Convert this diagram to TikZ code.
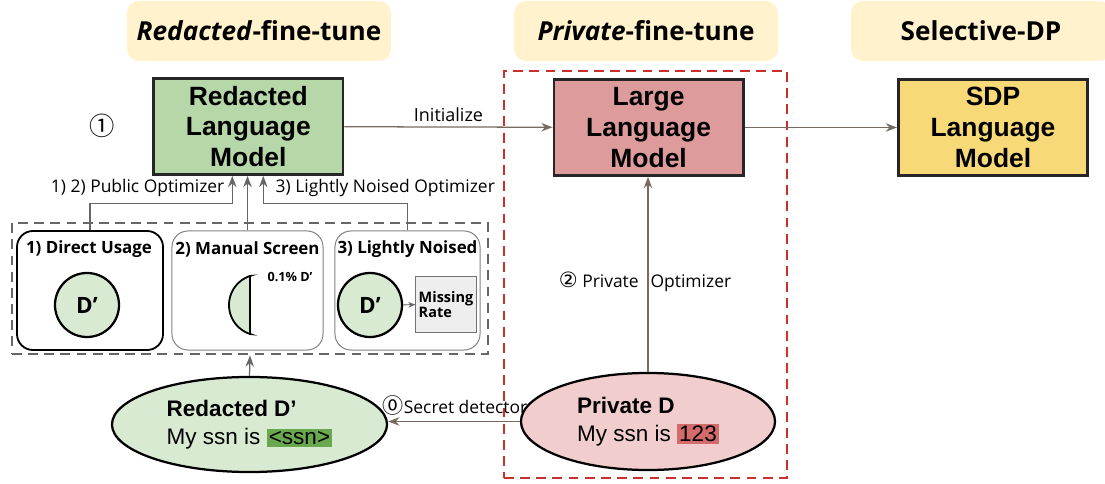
\documentclass[tikz,border=0pt]{standalone}
\usepackage{fontspec}
\setmainfont{Open Sans}
\newfontfamily\arialfont{Liberation Sans}
\newfontfamily\symfont{DejaVu Sans}
\newfontfamily\cjkfont{Noto Sans CJK JP}
\usetikzlibrary{shapes.geometric}
\usetikzlibrary{arrows.meta}
\definecolor{pillbg}{HTML}{FFF2CC}
\definecolor{redlm}{HTML}{B6D7A8}
\definecolor{largelm}{HTML}{DE9B9B}
\definecolor{sdplm}{HTML}{F8D977}
\definecolor{lightgreen}{HTML}{D9EAD3}
\definecolor{lightpink}{HTML}{F1CDCD}
\definecolor{hlgreen}{HTML}{6AA84F}
\definecolor{hlred}{HTML}{D46B6B}
\definecolor{flowcol}{HTML}{766B5E}
\definecolor{optcol}{HTML}{666666}
\definecolor{privred}{HTML}{C9302C}
\definecolor{missbg}{HTML}{EEEEEE}
\tikzset{
	pill/.style={fill=pillbg,rounded corners=0.3cm,minimum height=1.5cm,inner sep=0pt,font=\bfseries\fontsize{18.6}{22}\selectfont},
	model/.style={draw=black!85,line width=2pt,minimum width=4.73cm,minimum height=2.4cm,inner sep=1pt,align=center,font=\arialfont\bfseries\fontsize{18.8}{22}\selectfont},
	grpbox/.style={draw=optcol,line width=2pt,dash pattern=on 7pt off 4.5pt,minimum width=11.9cm,minimum height=3.275cm},
	privbox/.style={draw=privred,line width=2pt,dash pattern=on 7pt off 4.5pt,minimum width=7.075cm,minimum height=10.175cm},
	usecase/.style={draw=black!50,line width=0.7pt,rounded corners=0.4cm,minimum height=2.975cm},
	uctitle/.style={inner sep=0pt,font=\bfseries\fontsize{12}{14}\selectfont},
	dcirc/.style={circle,draw=black,line width=1.6pt,fill=lightgreen,minimum size=1.6cm,inner sep=0pt,font=\bfseries\fontsize{16}{18}\selectfont},
	halfd/.style={draw=black,line width=1.3pt,fill=lightgreen},
	missbox/.style={draw=black!55,line width=0.7pt,fill=missbg,minimum width=1.4cm,minimum height=1.375cm,inner sep=2pt,align=left,font=\bfseries\fontsize{10.3}{11}\selectfont},
	data/.style={ellipse,draw=black,line width=1.6pt,inner sep=0pt,align=left,font=\arialfont\fontsize{16}{20}\selectfont},
	lbl/.style={inner sep=1pt,font=\fontsize{12.4}{15}\selectfont},
	stepnum/.style={inner sep=0pt,font=\cjkfont\fontsize{18}{20}\selectfont},
	flow/.style={->,draw=flowcol,line width=0.9pt},
	optarrow/.style={->,draw=optcol,line width=0.9pt},
	>={Stealth[length=8pt,width=6pt]},
	}
\begin{document}
\begin{tikzpicture}[x=0.025cm,y=-0.025cm]
\useasboundingbox (0,0) rectangle (1105,484);

% stage titles
\node[pill,minimum width=6.6cm] (ttlRed) at (259,31) {\textit{Redacted}-fine-tune};
\node[pill,minimum width=6.6cm] (ttlPriv) at (646,31) {\textit{Private}-fine-tune};
\node[pill,minimum width=6.5cm] (ttlSel) at (981,31) {Selective-DP};

% dashed groups
\node[privbox] (priv) at (645.5,274.5) {};
\node[grpbox] (grp) at (250,288.5) {};

% language models
\node[model,fill=redlm] (redLM) at (248.3,126.5) {Redacted\\Language\\Model};
\node[model,fill=largelm] (largeLM) at (648.6,127.5) {Large\\Language\\Model};
\node[model,fill=sdplm] (sdpLM) at (993,127.5) {SDP\\Language\\Model};
\node[stepnum] (s1) at (102,126) {①};

\draw[flow] (redLM) -- (largeLM) node[midway,lbl,font=\fontsize{12.8}{15}\selectfont,above=2pt] (init) {Initialize};
\draw[flow] (largeLM) -- (sdpLM);

% three ways to use D'
\node[usecase,draw=black,line width=1.3pt,minimum width=3.65cm] (ucDirect) at (90,290.5) {};
\node[usecase,minimum width=3.775cm] (ucManual) at (247.5,290.5) {};
\node[usecase,minimum width=3.625cm] (ucNoise) at (407.5,290.5) {};
\node[uctitle] (tDirect) at (89,249) {1) Direct Usage};
\node[uctitle] (tManual) at (247.5,249) {2) Manual Screen};
\node[uctitle] (tNoise) at (407.5,249) {3) Lightly Noised};

\node[dcirc] (directD) at (87,305) {D’};
\draw[halfd] (250,276) -- (250,334) -- plot[domain=108:252,smooth,samples=30] ({259.5+30.5*cos(\x)},{305+30.5*sin(\x)}) -- cycle;
\node[inner sep=0pt,font=\bfseries\fontsize{9}{11}\selectfont] (pct) at (290,277) {0.1\% D’};
\node[dcirc] (noiseD) at (370,305) {D’};
\node[missbox] (miss) at (446,304.5) {Missing\\Rate};
\draw[->,draw=optcol,line width=0.7pt,>={Stealth[length=5pt,width=4pt]}] (noiseD) -- (miss);

% optimizers
\coordinate (tapL) at ([xshift=-0.4cm]redLM.south);
\coordinate (tapR) at ([xshift=0.375cm]redLM.south);
\draw[optarrow] (ucDirect.north) |- ([yshift=-0.69cm]tapL) -- (tapL);
\draw[optarrow] (ucManual.north) -- (ucManual.north |- redLM.south);
\draw[optarrow] (ucNoise.north) |- ([yshift=-0.69cm]tapR) -- (tapR);
\node[lbl,anchor=east] (pubOpt) at (226,188) {1) 2) Public Optimizer};
\node[lbl,anchor=west] (noiseOpt) at (274,188) {3) Lightly Noised Optimizer};

% data
\node[data,fill=lightgreen,minimum width=6.875cm,minimum height=2.375cm] (redD) at (249.5,424.5)
  {\textbf{Redacted D’}\\My ssn is \setlength{\fboxsep}{1.5pt}\colorbox{hlgreen}{<ssn>}};
\node[data,fill=lightpink,minimum width=6.35cm,minimum height=2.425cm] (privD) at (648,421.5)
  {\textbf{Private D}\\My ssn is \setlength{\fboxsep}{1.5pt}\colorbox{hlred}{123}};

\draw[flow] (privD.west) -- (privD.west -| redD.east);
\node[lbl] (detect) at (455,405) {{\cjkfont\fontsize{15}{15}\selectfont ⓪}Secret detector};
\draw[optarrow] (redD.north) -- (grp.south);
\draw[flow] (privD.north) -- (privD.north |- largeLM.south);
\node[lbl] (privOpt) at (645,282) {{\symfont\fontsize{15}{15}\selectfont ②} Private\hspace{0.3cm}Optimizer};
\end{tikzpicture}
\end{document}
